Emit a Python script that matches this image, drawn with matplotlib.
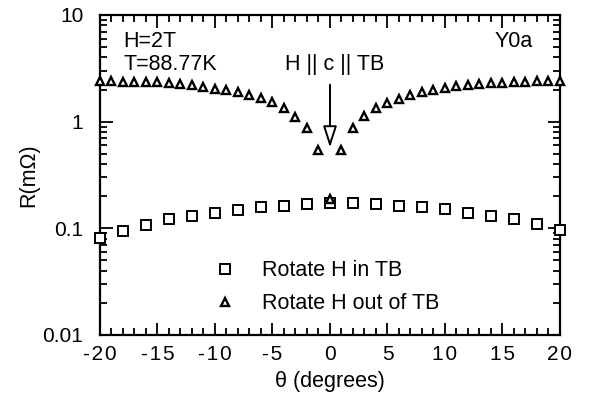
import matplotlib
matplotlib.use("Agg")
import matplotlib.pyplot as plt
from matplotlib.ticker import LogLocator, MultipleLocator, FixedLocator, FixedFormatter, NullFormatter

plt.rcParams['font.family'] = ['Liberation Sans', 'DejaVu Sans']

# Rotation out of the twin boundary (1 degree steps)
theta_out = list(range(-20, 21))
r_out = [2.40, 2.40, 2.37, 2.37, 2.35, 2.33, 2.30, 2.27, 2.22, 2.12,
         2.04, 1.98, 1.89, 1.79, 1.65, 1.54, 1.33, 1.11, 0.867, 0.54,
         0.19,
         0.54, 0.88, 1.13, 1.33, 1.49, 1.64, 1.79, 1.91, 2.00, 2.07,
         2.15, 2.22, 2.25, 2.28, 2.30, 2.33, 2.36, 2.40, 2.43, 2.40]

# Rotation within the twin boundary (2 degree steps)
theta_in = list(range(-20, 21, 2))
r_in = [0.0817, 0.0944, 0.107, 0.1216, 0.131, 0.140, 0.149, 0.157, 0.162, 0.168,
        0.174,
        0.171, 0.168, 0.163, 0.157, 0.151, 0.140, 0.1305, 0.1216, 0.109, 0.097]

x_ticks = [-20, -15, -10, -5, 0, 5, 10, 15, 20]
y_ticks = [0.01, 0.1, 1, 10]
y_tick_labels = ["0.01", "0.1", "1", "10"]

def spaced(s):
    # slightly widened letter spacing for the angle tick numbers
    return "\u200a".join(s)

fig = plt.figure(figsize=(5.92, 3.98), dpi=100)
ax = fig.add_axes([100 / 592, 1 - 335 / 398, 460 / 592, 320 / 398])

ax.plot(theta_in, r_in, linestyle='none', marker='s', markersize=6.5,
        markerfacecolor='white', markeredgecolor='black', markeredgewidth=1.4,
        label='Rotate H in TB', clip_on=False, zorder=3)
ax.plot(theta_out, r_out, linestyle='none', marker='^', markersize=6,
        markerfacecolor='white', markeredgecolor='black', markeredgewidth=1.7,
        label='Rotate H out of TB', clip_on=False, zorder=4)

ax.set_yscale('log')
ax.set_xlim(-20, 20)
ax.set_ylim(0.01, 10)

ax.xaxis.set_major_locator(FixedLocator(x_ticks))
ax.xaxis.set_major_formatter(FixedFormatter([spaced(str(t)) for t in x_ticks]))
ax.xaxis.set_minor_locator(MultipleLocator(1))
ax.yaxis.set_major_locator(FixedLocator(y_ticks))
ax.yaxis.set_major_formatter(FixedFormatter(y_tick_labels))
ax.yaxis.set_minor_locator(LogLocator(base=10, subs=range(2, 10)))
ax.yaxis.set_minor_formatter(NullFormatter())

ax.tick_params(which='both', direction='in', top=True, right=True,
               labelsize=15, width=1.3)
ax.tick_params(which='major', length=9)
ax.tick_params(which='minor', length=5)
ax.tick_params(axis='x', pad=7)
ax.tick_params(axis='y', pad=12)
for sp in ax.spines.values():
    sp.set_linewidth(1.6)

ax.set_xlabel('θ (degrees)', fontsize=15.5, labelpad=5)
ax.set_ylabel('R(mΩ)', fontsize=15.5, labelpad=2)

ax.text(0.05, 0.916, 'H=2T', transform=ax.transAxes, fontsize=15.5, va='center')
ax.text(0.05, 0.844, 'T=88.77K', transform=ax.transAxes, fontsize=15.5, va='center')
ax.text(0.94, 0.916, 'Y0a', transform=ax.transAxes, fontsize=15.5, va='center', ha='right')
ax.text(0.511, 0.844, 'H || c || TB', transform=ax.transAxes, fontsize=15.5,
        va='center', ha='center')

# Arrow pointing at the H || c orientation
ax.annotate('', xy=(0, 0.54), xytext=(0, 2.36),
            arrowprops=dict(arrowstyle='-|>,head_length=1.3,head_width=0.42',
                            facecolor='white', edgecolor='black', lw=1.4))

leg = ax.legend(loc='upper left', bbox_to_anchor=(0.235, 0.26), frameon=False,
                fontsize=15.5, handlelength=0.8, handletextpad=1.3,
                labelspacing=0.55, borderaxespad=0)

fig.savefig('out.png', dpi=100)
